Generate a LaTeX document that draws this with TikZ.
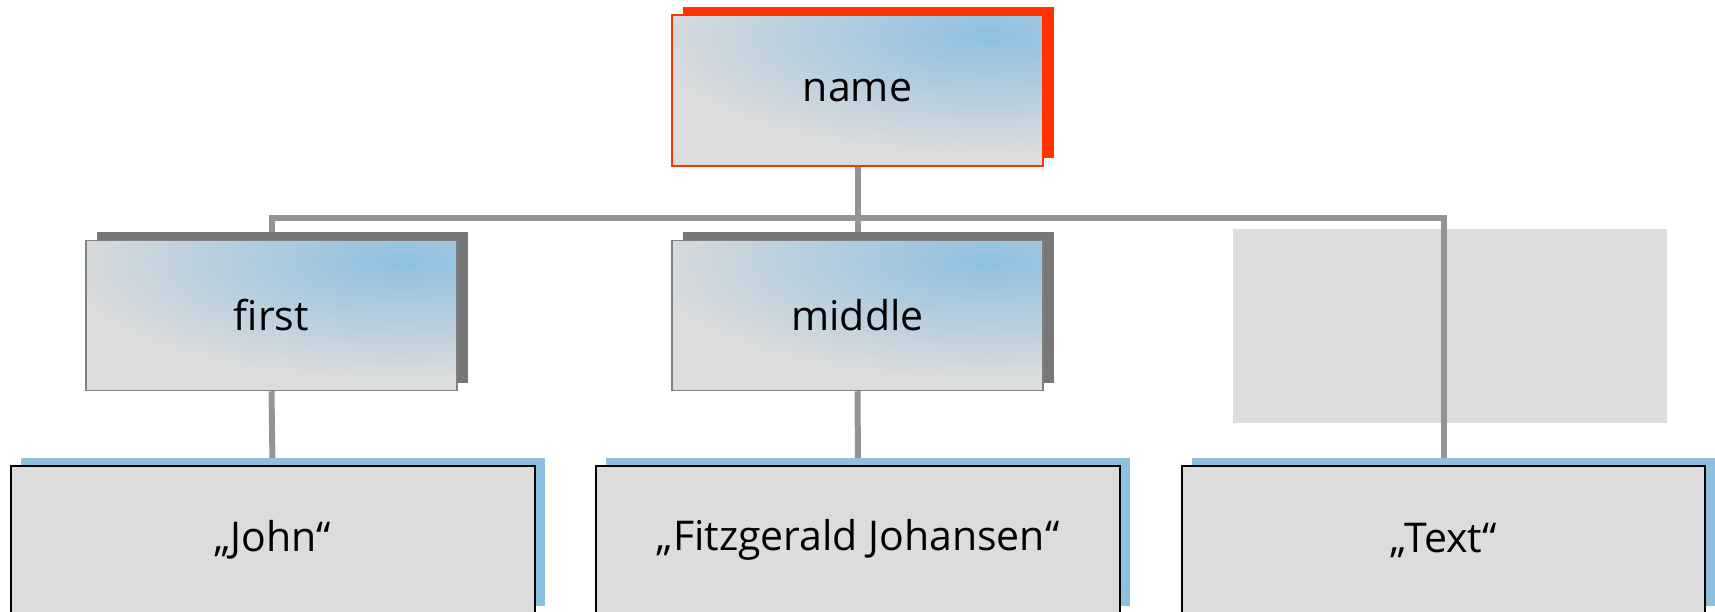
\documentclass[tikz,border=0pt]{standalone}
\usepackage{fontspec}
\setmainfont{Open Sans}
\usetikzlibrary{shadows}

\definecolor{hdrred}{HTML}{FF3300}
\definecolor{skyblue}{HTML}{8EC0E0}
\definecolor{panelgray}{HTML}{DCDCDC}
\definecolor{darkshadow}{HTML}{777777}
\definecolor{linegray}{HTML}{949494}
\definecolor{framegray}{HTML}{808080}

\pgfdeclarelayer{under}
\pgfdeclarelayer{wires}
\pgfsetlayers{under,wires,main}

\tikzset{
  lbl/.style={font=\fontsize{41}{48}\selectfont, text=black},
  % light grey panel with a blue glow in the upper right corner
  skyfill/.style={path picture={
      \fill[panelgray] (path picture bounding box.south west) rectangle (path picture bounding box.north east);
      \shade[inner color=skyblue, outer color=panelgray]
        ([shift={(-400,-100)}]path picture bounding box.north east) rectangle
        ([shift={(290,140)}]path picture bounding box.north east);
  }},
  fieldbox/.style={lbl, rectangle, inner sep=0pt, skyfill, line width=1.5pt,
      minimum width=371pt, minimum height=150pt},
  valuebox/.style={lbl, rectangle, inner sep=0pt, fill=panelgray, draw=black, line width=2pt,
      minimum width=524pt, minimum height=148pt,
      general shadow={fill=skyblue, shadow xshift=10pt, shadow yshift=8pt}},
  conn/.style={draw=linegray, line width=6pt, line join=miter},
}

\begin{document}
\begin{tikzpicture}[x=1pt, y=-1pt]
  \useasboundingbox (0,0) rectangle (1715,612);

  % structure nodes
  \node[fieldbox, draw=hdrred, minimum height=151pt,
        general shadow={fill=hdrred, shadow xshift=11pt, shadow yshift=8pt}]
        (name) at (857.5,90.5) {name};
  \node[fieldbox, draw=framegray,
        general shadow={fill=darkshadow, shadow xshift=11pt, shadow yshift=8pt}]
        (first) at (271.5,315.5) {first};
  \node[fieldbox, draw=framegray,
        general shadow={fill=darkshadow, shadow xshift=11pt, shadow yshift=8pt}]
        (middle) at (857.5,315.5) {middle};

  % value nodes
  \node[valuebox] (john) at (272.5,540) {„John“};
  \node[valuebox] (fitz) at (858,540) {„Fitzgerald Johansen“};
  \node[valuebox, minimum width=523pt] (textval) at (1443.5,540) {„Text“};

  % empty placeholder panel
  \begin{pgfonlayer}{under}
    \node[rectangle, fill=panelgray, inner sep=0pt, minimum width=434pt, minimum height=194pt]
      (blank) at (1450,326) {};
  \end{pgfonlayer}

  % connectors
  \coordinate (bus) at (857.5,218);
  \begin{pgfonlayer}{wires}
    \draw[conn] (name.south) -- (middle.north);
    \draw[conn] (first.north) -- (first.north |- bus) -- (textval.north |- bus) -- (textval.north);
    \draw[conn] (first.south) -- (john.north);
    \draw[conn] (middle.south) -- (fitz.north);
  \end{pgfonlayer}
\end{tikzpicture}
\end{document}
